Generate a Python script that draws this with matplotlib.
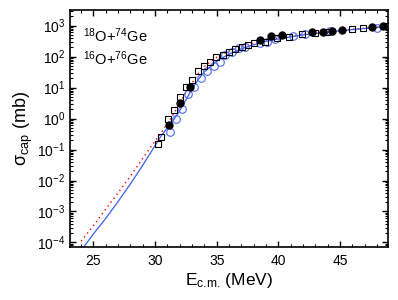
import matplotlib
matplotlib.use('Agg')
import matplotlib.pyplot as plt
from matplotlib.ticker import MultipleLocator, LogLocator, NullFormatter

plt.rcParams['font.family'] = ['Liberation Sans', 'DejaVu Sans']
plt.rcParams['mathtext.fontset'] = 'custom'
plt.rcParams['mathtext.rm'] = 'Liberation Sans'
plt.rcParams['mathtext.it'] = 'Liberation Sans:italic'

# Open squares (black)
sq_e = [30.26, 30.48, 31.02, 31.50, 31.99, 32.53, 33.02, 33.45, 33.99, 34.47,
        34.96, 35.50, 36.01, 36.52, 37.04, 37.53, 38.04, 38.93, 39.87, 40.89,
        41.90, 42.98, 43.97, 45.95, 46.84, 48.9]
sq_s = [0.15, 0.26, 0.95, 1.9, 4.9, 10.7, 17.8, 33, 50, 69,
        100, 113, 145, 173, 210, 238, 283, 302, 410, 423,
        528, 595, 627, 765, 824, 980]

# Filled circles (black)
fc_e = [31.12, 31.99, 32.80, 38.52, 39.39, 40.28, 42.71, 43.60, 44.38, 45.19,
        47.62, 48.46]
fc_s = [0.62, 3.2, 10.3, 345, 448, 484, 612, 640, 690, 727, 908, 1000]

# Open circles (blue)
oc_e = [31.23, 31.72, 32.18, 32.71, 33.18, 33.74, 34.21, 34.74, 35.23, 35.69,
        36.23, 36.77, 37.31, 38.52, 39.06, 39.74, 41.17, 42.2, 44.2, 47.97]
oc_s = [0.38, 0.95, 2.0, 6.3, 10.7, 20, 33, 50, 69, 113,
        145, 186, 210, 270, 300, 363, 447, 540, 650, 830]

# Red dotted curve
red_e = [24.0, 25, 26, 27, 28, 29, 29.5, 30, 30.5, 31, 31.5, 32, 32.5, 33,
         33.5, 34, 35, 36, 37, 38, 39, 40, 42, 44, 46, 48, 49]
red_s = [1.1e-4, 3.5e-4, 1.2e-3, 4e-3, 1.4e-2, 5.2e-2, 0.1, 0.19, 0.35, 0.7,
         1.4, 3.2, 7, 14, 28, 48, 95, 150, 210, 275, 340, 400, 525, 630, 760,
         890, 955]

# Blue solid curve
blue_e = [24.1, 25, 26, 27, 28, 29, 29.8, 30.5, 31, 31.5, 32, 32.5, 33, 33.5,
          34, 35, 36, 37, 38, 39, 40, 42, 44, 46, 48, 49]
blue_s = [6.3e-5, 1.9e-4, 6.0e-4, 2.1e-3, 7.8e-3, 3.1e-2, 0.1, 0.28, 0.5, 0.9,
          1.8, 4, 9, 18, 32, 71, 120, 178, 240, 310, 370, 500, 615, 740, 870,
          935]

fig = plt.figure(figsize=(3.98, 3.0), dpi=100)
ax = fig.add_axes([0.176, 0.177, 0.799, 0.790])

ax.plot(red_e, red_s, color='red', linestyle=(0, (1, 2.5)), linewidth=1.0)
ax.plot(blue_e, blue_s, color='#3c5ef0', linewidth=0.9)

ax.plot(oc_e, oc_s, linestyle='none', marker='o', ms=5.5, mfc='none',
        mec='#4a6cf0', mew=0.8)
ax.plot(sq_e, sq_s, linestyle='none', marker='s', ms=5, mfc='none',
        mec='black', mew=0.8)
ax.plot(fc_e, fc_s, linestyle='none', marker='o', ms=5, mfc='black',
        mec='black')

ax.set_yscale('log')
ax.set_xlim(23.1, 48.9)
ax.set_ylim(7.2e-5, 3.2e3)

ax.xaxis.set_major_locator(MultipleLocator(5))
ax.xaxis.set_minor_locator(MultipleLocator(1))
ax.yaxis.set_major_locator(LogLocator(base=10, numticks=20))
ax.yaxis.set_minor_locator(LogLocator(base=10, subs=range(2, 10), numticks=20))
ax.yaxis.set_minor_formatter(NullFormatter())

ax.tick_params(which='both', direction='in', top=True, right=True,
               labelsize=10)
ax.tick_params(axis='x', which='major', pad=5)
ax.tick_params(which='major', length=4, width=1)
ax.tick_params(which='minor', length=2, width=0.8)
for s in ax.spines.values():
    s.set_linewidth(1.2)

ax.set_xlabel('E$_{\\text{c.m.}}$ (MeV)', fontsize=12.5, labelpad=2)
ax.set_ylabel('σ$_{\\text{cap}}$ (mb)', fontsize=13, labelpad=1)

ax.text(0.04, 0.93, '$^{18}$O+$^{74}$Ge', transform=ax.transAxes,
        fontsize=10.5, va='top')
ax.text(0.04, 0.835, '$^{16}$O+$^{76}$Ge', transform=ax.transAxes,
        fontsize=10.5, va='top')

fig.savefig('out.png', dpi=100, facecolor='white')
